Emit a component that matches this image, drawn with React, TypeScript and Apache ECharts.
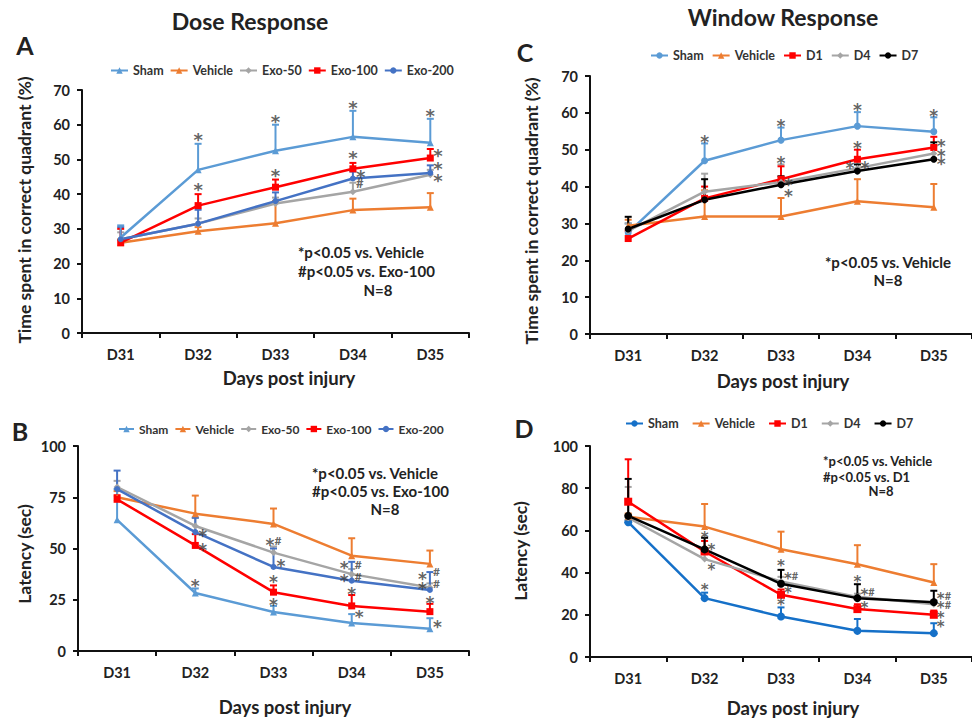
import React, { useEffect, useRef } from 'react';
import * as echarts from 'echarts';

const days = ['D31', 'D32', 'D33', 'D34', 'D35'];

// Panel A – Dose response, time in correct quadrant (%)
const aSham = [27.5, 47, 52.5, 56.5, 54.8];
const aShamErr = [31, 54.5, 60, 64, 61.7];
const aVehicle = [26, 29.3, 31.6, 35.4, 36.2];
const aVehicleErr = [27, 30.5, 38, 38.7, 40.3];
const aExo50 = [27, 31.5, 37.3, 40.7, 45.6];
const aExo50Err = [29, 33, 39, 43.3, 47];
const aExo100 = [26, 36.7, 42, 47.3, 50.4];
const aExo100Err = [30, 40, 44.2, 49, 53];
const aExo200 = [27, 31.5, 38, 44.5, 46.1];
const aExo200Err = [30.5, 35.5, 40.5, 46.5, 48.3];

// Panel B – Dose response, latency (sec)
const bSham = [64, 28.3, 19, 13.7, 10.8];
const bShamErr = [79, 30.5, 22, 18, 16];
const bVehicle = [75, 67, 62, 46.5, 42.5];
const bVehicleErr = [78, 75.8, 69.5, 55, 49];
const bExo50 = [80, 61, 48, 37.5, 31];
const bExo50Err = [83, 65, 51, 40, 33];
const bExo100 = [74, 51.5, 28.7, 22, 19.2];
const bExo100Err = [76, 57, 32, 27.3, 23];
const bExo200 = [79, 58, 41, 34.3, 29.8];
const bExo200Err = [88, 65, 50, 43.5, 38.5];

// Panel C – Window response, time in correct quadrant (%)
const cSham = [27.5, 47, 52.6, 56.4, 54.9];
const cShamErr = [30, 51.7, 56, 60.2, 58.8];
const cVehicle = [29.4, 31.9, 31.9, 36, 34.4];
const cVehicleErr = [31, 39, 36.9, 42, 40.7];
const cD1 = [25.9, 36.8, 42, 47.4, 50.6];
const cD1Err = [28, 40, 45.5, 50, 53.5];
const cD4 = [28, 38.6, 41.2, 45, 49];
const cD4Err = [30, 43.5, 46, 47, 51];
const cD7 = [28.5, 36.4, 40.5, 44.2, 47.4];
const cD7Err = [31.8, 42, 42.8, 46, 52];

// Panel D – Window response, latency (sec)
const dSham = [63.9, 27.9, 19.2, 12.4, 11.3];
const dShamErr = [65, 30.5, 23.5, 18, 16];
const dVehicle = [66.5, 61.8, 51.1, 44, 35.3];
const dVehicleErr = [68, 72.5, 59.4, 53, 44];
const dD1 = [73.6, 50, 29.5, 22.7, 20];
const dD1Err = [93.7, 55, 32, 25, 22];
const dD4 = [66, 46.4, 35.8, 28.5, 25];
const dD4Err = [80.6, 50, 38, 30, 27];
const dD7 = [66.9, 51, 34.7, 27.9, 26];
const dD7Err = [84.4, 56.5, 41.3, 34.5, 31.4];

// significance marks: [day, value, text, side]
const aNotes = [
  ['D32', 57, '*', 'c'], ['D32', 42.6, '*', 'c'],
  ['D33', 62.2, '*', 'c'], ['D33', 46.5, '*', 'c'],
  ['D34', 66, '*', 'c'], ['D34', 51.8, '*', 'c'], ['D34', 46.3, '*', 'r'], ['D34', 43.1, '#', 'r'],
  ['D35', 63.8, '*', 'c'], ['D35', 52.2, '*', 'r'], ['D35', 48.6, '*', 'r'], ['D35', 45.2, '*', 'r'],
];
const bNotes = [
  ['D32', 58.2, '*', 'r'], ['D32', 51.4, '*', 'r'], ['D32', 33.8, '*', 'c'],
  ['D33', 53.8, '*#', 'c'], ['D33', 43.4, '*', 'r'], ['D33', 35.5, '*', 'c'], ['D33', 24.5, '*', 'c'],
  ['D34', 42.4, '*', 'l'], ['D34', 42.4, '#', 'r'], ['D34', 36.3, '*', 'l'], ['D34', 36.3, '#', 'r'],
  ['D34', 30, '*', 'c'], ['D34', 18.4, '*', 'r'],
  ['D35', 37, '*', 'l'], ['D35', 38.8, '#', 'r'], ['D35', 32.3, '*', 'l'], ['D35', 33, '#', 'r'],
  ['D35', 25.4, '*', 'c'], ['D35', 13.8, '*', 'r'],
];
const cNotes = [
  ['D32', 53.3, '*', 'c'],
  ['D33', 57.4, '*', 'c'], ['D33', 47.6, '*', 'c'], ['D33', 41.5, '*', 'r'], ['D33', 38.5, '*', 'r'],
  ['D34', 61.9, '*', 'c'], ['D34', 51.5, '*', 'c'], ['D34', 46.1, '*', 'l'], ['D34', 46.1, '*', 'r'],
  ['D35', 60.3, '*', 'c'], ['D35', 52.2, '*', 'r'], ['D35', 49.5, '*', 'r'], ['D35', 47.2, '*', 'r'],
];
const dNotes = [
  ['D32', 57.9, '*', 'c'], ['D32', 52.3, '*', 'r'], ['D32', 43, '*', 'r'], ['D32', 33.4, '*', 'c'],
  ['D33', 44.6, '*', 'c'], ['D33', 38.5, '*#', 'r'], ['D33', 31.9, '*', 'r'], ['D33', 26.3, '*', 'c'],
  ['D34', 37.4, '*', 'c'], ['D34', 31, '*#', 'r'], ['D34', 25.1, '*', 'r'],
  ['D35', 29, '*#', 'r'], ['D35', 25.1, '*#', 'r'], ['D35', 20, '*', 'r'], ['D35', 16.1, '*', 'r'],
];

const FONT = 'Lato';
const STAR_FONT = 'DejaVu Sans';
const TXT = '#222';
const C_LBLUE = '#5B9BD5';
const C_ORANGE = '#ED7D31';
const C_GRAY = '#A5A5A5';
const C_RED = '#FF0000';
const C_BLUE = '#4472C4';
const C_DBLUE = '#1570C8';
const C_BLACK = '#000000';

function lineS(panel: string, label: string, data: number[], color: string, symbol: string, size: number, idx: number) {
  return {
    type: 'line', name: `${panel}:${label}`, xAxisIndex: idx, yAxisIndex: idx,
    data, symbol, symbolSize: size, z: 3,
    lineStyle: { color, width: 2.5 }, itemStyle: { color },
  };
}

function errS(panel: string, label: string, data: number[], err: number[], color: string, idx: number) {
  return {
    type: 'custom', name: `err${panel}:${label}`, xAxisIndex: idx, yAxisIndex: idx, z: 2,
    data: days.map((d, i) => [d, data[i], err[i]]),
    encode: { x: 0, y: [1, 2] },
    renderItem: (params: any, api: any) => {
      const x = api.value(0);
      const p0 = api.coord([x, api.value(1)]);
      const p1 = api.coord([x, api.value(2)]);
      const w = 3.5;
      return {
        type: 'group',
        children: [
          { type: 'line', shape: { x1: p0[0], y1: p0[1], x2: p1[0], y2: p1[1] }, style: { stroke: color, lineWidth: 2 } },
          { type: 'line', shape: { x1: p1[0] - w, y1: p1[1], x2: p1[0] + w, y2: p1[1] }, style: { stroke: color, lineWidth: 2 } },
        ],
      };
    },
  };
}

function noteS(panel: string, notes: any[], idx: number, fs: number) {
  return {
    type: 'scatter', name: `note${panel}`, xAxisIndex: idx, yAxisIndex: idx, z: 5,
    symbolSize: 1, itemStyle: { color: 'rgba(0,0,0,0)' }, silent: true,
    data: notes.map((n) => ({
      value: [n[0], n[1]],
      label: {
        show: true,
        formatter: String(n[2]).split('').map((ch) => (ch === '*' ? '{s|*}' : '{h|#}')).join(''),
        position: 'inside',
        align: n[3] === 'r' ? 'left' : n[3] === 'l' ? 'right' : 'center',
        offset: [n[3] === 'r' ? 3 : n[3] === 'l' ? -3 : 0, 0],
        rich: {
          s: { color: '#3a3a3a', fontFamily: STAR_FONT, fontWeight: 'bold', fontSize: fs, padding: [Math.round(fs * 0.45), 0, 0, 0] },
          h: { color: '#3a3a3a', fontFamily: FONT, fontWeight: 'bold', fontSize: Math.round(fs * 0.7), padding: [0, 0, 0, 0] },
        },
      },
    })),
  };
}

function axes(idx: number, max: number, interval: number) {
  const line = { show: true, lineStyle: { color: '#111', width: 2 } };
  return {
    x: {
      type: 'category', data: days, gridIndex: idx, boundaryGap: true,
      axisLine: line, axisTick: { show: true, length: 5, lineStyle: { color: '#111', width: 2 } },
      axisLabel: { color: TXT, fontFamily: FONT, fontWeight: 'bold', fontSize: 14.5, margin: 14 },
      splitLine: { show: false },
    },
    y: {
      type: 'value', gridIndex: idx, min: 0, max, interval,
      axisLine: line, axisTick: { show: true, length: 5, lineStyle: { color: '#111', width: 2 } },
      axisLabel: { color: TXT, fontFamily: FONT, fontWeight: 'bold', fontSize: 14.5, margin: 12 },
      splitLine: { show: false },
    },
  };
}

function legend(panel: string, labels: string[], left: number, top: number, gap: number, fs: number, iw: number) {
  return {
    left, top, padding: 0, itemWidth: iw, itemHeight: 8, itemGap: gap, selectedMode: false,
    data: labels.map((l) => `${panel}:${l}`),
    formatter: (n: string) => n.split(':')[1],
    textStyle: { color: '#333', fontFamily: FONT, fontWeight: 'bold', fontSize: fs },
  };
}

function txt(text: string, x: number, y: number, fs: number, align = 'left', rot = 0, weight = 'bold') {
  return {
    type: 'text', x, y, rotation: rot, z: 10,
    style: { text, fill: TXT, font: `${weight} ${fs}px ${FONT}`, align, verticalAlign: 'middle' },
  };
}

export default function App() {
  const ref = useRef<HTMLDivElement>(null);
  useEffect(() => {
    if (!ref.current) return;
    const chart = echarts.init(ref.current, null, { renderer: 'svg' });
    const A = axes(0, 70, 10), B = axes(1, 100, 25), C = axes(2, 70, 10), D = axes(3, 100, 20);
    const option: any = {
      animation: false,
      backgroundColor: '#fff',
      grid: [
        { left: 82, top: 90, width: 387, height: 243 },
        { left: 78, top: 446, width: 391, height: 205 },
        { left: 590, top: 76, width: 386, height: 258 },
        { left: 590, top: 446, width: 386, height: 211 },
      ],
      xAxis: [A.x, B.x, C.x, D.x],
      yAxis: [A.y, B.y, C.y, D.y],
      legend: [
        legend('A', ['Sham', 'Vehicle', 'Exo-50', 'Exo-100', 'Exo-200'], 110, 64, 6, 12.5, 17),
        legend('B', ['Sham', 'Vehicle', 'Exo-50', 'Exo-100', 'Exo-200'], 118, 423, 6, 12, 15),
        legend('C', ['Sham', 'Vehicle', 'D1', 'D4', 'D7'], 650, 49, 8, 12.5, 17),
        legend('D', ['Sham', 'Vehicle', 'D1', 'D4', 'D7'], 625, 417, 13, 12.5, 17),
      ],
      series: [
        errS('A', 'Vehicle', aVehicle, aVehicleErr, C_ORANGE, 0),
        errS('A', 'Exo-50', aExo50, aExo50Err, C_GRAY, 0),
        errS('A', 'Exo-200', aExo200, aExo200Err, C_BLUE, 0),
        errS('A', 'Exo-100', aExo100, aExo100Err, C_RED, 0),
        errS('A', 'Sham', aSham, aShamErr, C_LBLUE, 0),
        lineS('A', 'Sham', aSham, C_LBLUE, 'triangle', 7, 0),
        lineS('A', 'Vehicle', aVehicle, C_ORANGE, 'triangle', 7, 0),
        lineS('A', 'Exo-50', aExo50, C_GRAY, 'diamond', 7, 0),
        lineS('A', 'Exo-100', aExo100, C_RED, 'rect', 7, 0),
        lineS('A', 'Exo-200', aExo200, C_BLUE, 'circle', 6, 0),
        noteS('A', aNotes, 0, 18),

        errS('B', 'Vehicle', bVehicle, bVehicleErr, C_ORANGE, 1),
        errS('B', 'Exo-50', bExo50, bExo50Err, C_GRAY, 1),
        errS('B', 'Sham', bSham, bShamErr, C_LBLUE, 1),
        errS('B', 'Exo-200', bExo200, bExo200Err, C_BLUE, 1),
        errS('B', 'Exo-100', bExo100, bExo100Err, C_RED, 1),
        lineS('B', 'Sham', bSham, C_LBLUE, 'triangle', 7, 1),
        lineS('B', 'Vehicle', bVehicle, C_ORANGE, 'triangle', 7, 1),
        lineS('B', 'Exo-50', bExo50, C_GRAY, 'diamond', 7, 1),
        lineS('B', 'Exo-100', bExo100, C_RED, 'rect', 7, 1),
        lineS('B', 'Exo-200', bExo200, C_BLUE, 'circle', 6, 1),
        noteS('B', bNotes, 1, 17),

        errS('C', 'Vehicle', cVehicle, cVehicleErr, C_ORANGE, 2),
        errS('C', 'Sham', cSham, cShamErr, C_LBLUE, 2),
        errS('C', 'D4', cD4, cD4Err, C_GRAY, 2),
        errS('C', 'D1', cD1, cD1Err, C_RED, 2),
        errS('C', 'D7', cD7, cD7Err, C_BLACK, 2),
        lineS('C', 'Sham', cSham, C_LBLUE, 'circle', 7, 2),
        lineS('C', 'Vehicle', cVehicle, C_ORANGE, 'triangle', 7, 2),
        lineS('C', 'D1', cD1, C_RED, 'rect', 7, 2),
        lineS('C', 'D4', cD4, C_GRAY, 'diamond', 7, 2),
        lineS('C', 'D7', cD7, C_BLACK, 'circle', 7, 2),
        noteS('C', cNotes, 2, 17),

        errS('D', 'Vehicle', dVehicle, dVehicleErr, C_ORANGE, 3),
        errS('D', 'Sham', dSham, dShamErr, C_DBLUE, 3),
        errS('D', 'D4', dD4, dD4Err, C_GRAY, 3),
        errS('D', 'D1', dD1, dD1Err, C_RED, 3),
        errS('D', 'D7', dD7, dD7Err, C_BLACK, 3),
        lineS('D', 'Sham', dSham, C_DBLUE, 'circle', 8, 3),
        lineS('D', 'Vehicle', dVehicle, C_ORANGE, 'triangle', 7, 3),
        lineS('D', 'D1', dD1, C_RED, 'rect', 8, 3),
        lineS('D', 'D4', dD4, C_GRAY, 'diamond', 7, 3),
        lineS('D', 'D7', dD7, C_BLACK, 'circle', 8, 3),
        noteS('D', dNotes, 3, 15),
      ],
      graphic: [
        txt('Dose Response', 250, 21, 23, 'center'),
        txt('Window Response', 783, 17, 23, 'center'),
        txt('A', 25, 45, 25, 'center'),
        txt('B', 20, 431, 25, 'center'),
        txt('C', 525, 52, 25, 'center'),
        txt('D', 524, 428, 25, 'center'),
        txt('Time spent in correct quadrant (%)', 24, 210, 17.5, 'center', Math.PI / 2),
        txt('Latency (sec)', 24, 554, 17.5, 'center', Math.PI / 2),
        txt('Time spent in correct quadrant (%)', 531, 211, 17.5, 'center', Math.PI / 2),
        txt('Latency (sec)', 520, 551, 17.5, 'center', Math.PI / 2),
        txt('Days post injury', 289, 378, 18.5, 'center'),
        txt('Days post injury', 285, 707, 18.5, 'center'),
        txt('Days post injury', 783, 381, 18.5, 'center'),
        txt('Days post injury', 793, 708, 18.5, 'center'),
        txt('*p<0.05 vs. Vehicle', 298, 252, 15),
        txt('#p<0.05 vs. Exo-100', 298, 271, 15),
        txt('N=8', 378, 290, 15, 'center'),
        txt('*p<0.05 vs. Vehicle', 312, 473, 15),
        txt('#p<0.05 vs. Exo-100', 312, 491, 15),
        txt('N=8', 385, 509, 15, 'center'),
        txt('*p<0.05 vs. Vehicle', 825, 262, 15),
        txt('N=8', 888, 280, 15, 'center'),
        txt('*p<0.05 vs. Vehicle', 823, 461, 13),
        txt('#p<0.05 vs. D1', 823, 477, 13),
        txt('N=8', 881, 491, 13, 'center'),
      ],
    };
    chart.setOption(option);
    return () => chart.dispose();
  }, []);
  return <div ref={ref} style={{ position: 'fixed', left: 0, top: 0, width: 972, height: 722, background: '#fff' }} />;
}
